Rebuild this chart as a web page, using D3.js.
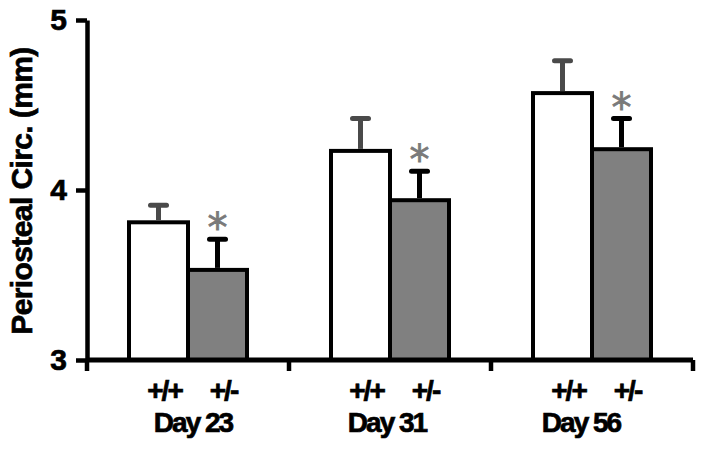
<!DOCTYPE html>
<html>
<head>
<meta charset="utf-8" />
<style>
body {
  margin: 0;
  background-color: white;
}
svg {
  display: block;
  font-family: "Liberation Sans", Arial, Helvetica, sans-serif;
  font-weight: bold;
}
.heavy {
  stroke: black;
  stroke-width: 0.7px;
}
</style>
<script src="https://cdnjs.cloudflare.com/ajax/libs/d3/7.8.5/d3.min.js"></script>
</head>
<body>
<div id="svg-chart"></div>
<script>
// data
var days = ["Day 23", "Day 31", "Day 56"];
var genotypes = ["+/+", "+/-"];
var meanWT = [3.81, 4.23, 4.57];
var errWT = [0.10, 0.19, 0.19];
var meanHet = [3.53, 3.94, 4.24];
var errHet = [0.18, 0.17, 0.18];
var significant = [true, true, true];
var yTicks = [3, 4, 5];

var width = 704, height = 449;

var svg = d3.select("#svg-chart")
  .append("svg")
  .attr("width", width)
  .attr("height", height);

var rows = [];
days.forEach(function(day, i) {
  rows.push({ day: day, geno: "+/+", mean: meanWT[i], err: errWT[i], star: false });
  rows.push({ day: day, geno: "+/-", mean: meanHet[i], err: errHet[i], star: significant[i] });
});

var yScale = d3.scaleLinear().domain([3, 5]).range([360, 20]);

var x0 = d3.scaleBand().domain(days).range([87, 693]);
var x1 = d3.scaleBand().domain(genotypes).range([0, 118]);
var groupOffset = x0.bandwidth() / 2 - 59;
var dayLabelX = d3.scaleBand().domain(days).range([96, 678]);

function barX(d) { return x0(d.day) + groupOffset + x1(d.geno); }

// bars
svg.selectAll(".bar")
  .data(rows)
  .enter().append("rect")
  .attr("class", "bar")
  .attr("x", barX)
  .attr("y", function(d) { return yScale(d.mean); })
  .attr("width", x1.bandwidth())
  .attr("height", function(d) { return yScale(3) - yScale(d.mean); })
  .attr("fill", function(d) { return d.geno == "+/+" ? "white" : "#808080"; })
  .attr("stroke", "black")
  .attr("stroke-width", 4);

// error bars (upper only)
var errG = svg.selectAll(".err")
  .data(rows)
  .enter().append("g")
  .attr("class", "err")
  .attr("stroke", function(d) { return d.geno == "+/+" ? "#4a4a4a" : "black"; })
  .attr("stroke-width", 5);

errG.append("line")
  .attr("x1", function(d) { return barX(d) + x1.bandwidth() / 2; })
  .attr("x2", function(d) { return barX(d) + x1.bandwidth() / 2; })
  .attr("y1", function(d) { return yScale(d.mean) - 2; })
  .attr("y2", function(d) { return yScale(d.mean + d.err); });

errG.append("line")
  .attr("stroke-linecap", "round")
  .attr("x1", function(d) { return barX(d) + x1.bandwidth() / 2 - 8; })
  .attr("x2", function(d) { return barX(d) + x1.bandwidth() / 2 + 8; })
  .attr("y1", function(d) { return yScale(d.mean + d.err); })
  .attr("y2", function(d) { return yScale(d.mean + d.err); });

// significance stars
svg.selectAll(".star")
  .data(rows.filter(function(d) { return d.star; }))
  .enter().append("text")
  .attr("class", "star")
  .attr("x", function(d) { return barX(d) + x1.bandwidth() / 2; })
  .attr("y", function(d) { return yScale(d.mean + d.err) + 3; })
  .attr("text-anchor", "middle")
  .attr("font-size", "40px")
  .attr("font-weight", "normal")
  .attr("font-family", "\"DejaVu Sans\", sans-serif")
  .attr("fill", "#7a7a7a")
  .attr("stroke", "#7a7a7a")
  .attr("stroke-width", 0.8)
  .text("*");

// y axis
var yAxis = d3.axisLeft(yScale)
  .tickValues(yTicks)
  .tickFormat(d3.format("d"))
  .tickSize(11)
  .tickSizeOuter(0)
  .tickPadding(9);

var gy = svg.append("g")
  .attr("transform", "translate(87,0)")
  .call(yAxis);
gy.select(".domain").attr("stroke-width", 4.5);
gy.selectAll(".tick line").attr("stroke-width", 4.5);
gy.selectAll(".tick text")
  .attr("class", "heavy")
  .attr("font-size", "30px")
  .attr("font-weight", "bold")
  .attr("font-family", "\"Liberation Sans\", Arial, sans-serif")
  .attr("fill", "black");

// x axis line with boundary ticks
var bounds = [x0.range()[0]].concat(days.map(function(d) { return x0(d) + x0.bandwidth(); }));
svg.append("line")
  .attr("x1", x0.range()[0])
  .attr("x2", x0.range()[1])
  .attr("y1", yScale(3))
  .attr("y2", yScale(3))
  .attr("stroke", "black")
  .attr("stroke-width", 5);
svg.selectAll(".xtick")
  .data(bounds)
  .enter().append("line")
  .attr("class", "xtick")
  .attr("x1", function(d) { return d; })
  .attr("x2", function(d) { return d; })
  .attr("y1", yScale(3))
  .attr("y2", yScale(3) + 11)
  .attr("stroke", "black")
  .attr("stroke-width", 4.5);

// genotype labels
svg.selectAll(".geno")
  .data(rows)
  .enter().append("text")
  .attr("class", "geno heavy")
  .attr("x", function(d) { return barX(d) + x1.bandwidth() / 2 + 6; })
  .attr("y", 400)
  .attr("text-anchor", "middle")
  .attr("font-size", "28px")
  .attr("letter-spacing", "-2px")
  .text(function(d) { return d.geno; });

// day labels
svg.selectAll(".day")
  .data(days)
  .enter().append("text")
  .attr("class", "day heavy")
  .attr("x", function(d) { return dayLabelX(d) + dayLabelX.bandwidth() / 2; })
  .attr("y", 432)
  .attr("text-anchor", "middle")
  .attr("font-size", "28px")
  .attr("letter-spacing", "-2px")
  .text(function(d) { return d; });

// y axis title
svg.append("text")
  .attr("class", "heavy")
  .attr("text-anchor", "middle")
  .attr("transform", "translate(32,191)rotate(-90)")
  .attr("font-size", "30px")
  .attr("letter-spacing", "-0.6px")
  .text("Periosteal Circ. (mm)");
</script>
</body>
</html>
